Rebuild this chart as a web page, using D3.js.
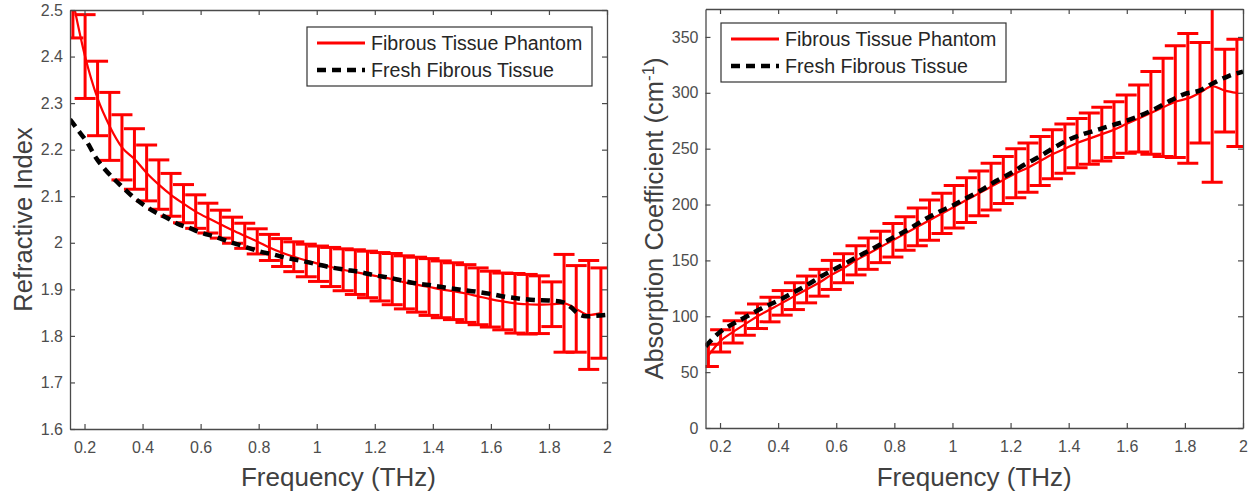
<!DOCTYPE html>
<html>
<head>
<meta charset="utf-8">
<script src="https://cdn.jsdelivr.net/npm/d3@7/dist/d3.min.js"></script>
<style>
  html, body { margin: 0; padding: 0; background: #fff; }
  svg { display: block; font-family: "Liberation Sans", Arial, Helvetica, sans-serif; }
</style>
</head>
<body>
<svg id="chart" width="1252" height="497"></svg>
<script>
// frequency grid of the phantom measurement (THz)
var freq = [0.160, 0.202, 0.245, 0.287, 0.329, 0.372, 0.414, 0.456, 0.498, 0.541, 0.583, 0.625,
  0.668, 0.710, 0.752, 0.795, 0.837, 0.879, 0.921, 0.964, 1.006, 1.048, 1.091, 1.133, 1.175,
  1.218, 1.260, 1.302, 1.344, 1.387, 1.429, 1.471, 1.514, 1.556, 1.598, 1.641, 1.683, 1.725,
  1.767, 1.810, 1.852, 1.894, 1.937, 1.979];

// refractive index, fibrous tissue phantom (mean and half error bar)
var phantomIndex = [2.52, 2.40, 2.31, 2.25, 2.205, 2.18, 2.15, 2.125, 2.103, 2.084, 2.067, 2.053,
  2.04, 2.027, 2.015, 2.003, 1.99, 1.979, 1.970, 1.962, 1.955, 1.948, 1.942, 1.937, 1.932,
  1.927, 1.922, 1.915, 1.910, 1.905, 1.900, 1.896, 1.891, 1.885, 1.879, 1.874, 1.870, 1.868,
  1.867, 1.868, 1.870, 1.858, 1.845, 1.849];
var phantomIndexErr = [0.08, 0.09, 0.08, 0.073, 0.07, 0.065, 0.06, 0.053, 0.046, 0.041, 0.036, 0.032,
  0.03, 0.028, 0.027, 0.027, 0.028, 0.03, 0.032, 0.035, 0.038, 0.042, 0.045, 0.048, 0.05,
  0.052, 0.055, 0.057, 0.059, 0.061, 0.061, 0.061, 0.062, 0.061, 0.06, 0.061, 0.064, 0.064,
  0.062, 0.048, 0.105, 0.093, 0.117, 0.097];

// refractive index, fresh fibrous tissue
var freshIndexFreq = [0.15, 0.18, 0.21, 0.24, 0.27, 0.30, 0.33, 0.37, 0.40, 0.44, 0.48, 0.52, 0.56,
  0.60, 0.65, 0.70, 0.75, 0.80, 0.85, 0.90, 0.95, 1.00, 1.05, 1.10, 1.15, 1.20, 1.25, 1.30,
  1.35, 1.40, 1.45, 1.50, 1.55, 1.60, 1.65, 1.70, 1.75, 1.80, 1.85, 1.875, 1.90, 1.93, 1.96, 2.00];
var freshIndex = [2.265, 2.24, 2.215, 2.182, 2.158, 2.138, 2.12, 2.097, 2.083, 2.067, 2.055, 2.041, 2.032,
  2.022, 2.013, 2.002, 1.992, 1.982, 1.975, 1.967, 1.961, 1.954, 1.947, 1.942, 1.937, 1.93, 1.925, 1.918,
  1.912, 1.908, 1.903, 1.899, 1.895, 1.89, 1.884, 1.880, 1.877, 1.876, 1.872, 1.862, 1.848, 1.842, 1.843, 1.845];

// absorption coefficient (cm^-1), phantom
var phantomAbs = [65, 78, 86, 93, 100, 106, 112, 118, 124, 130, 137, 143, 150, 156, 162, 168, 174,
  180, 186, 192, 198, 204, 210, 216, 222, 228, 233, 239, 245, 250, 255, 259, 263, 267, 272,
  277, 282, 287, 292, 295, 300, 306, 302, 300];
var phantomAbsErr = [10, 10, 10, 10, 11, 11, 11, 12, 12, 12, 13, 13, 13, 14, 14, 15, 15, 17, 18,
  18, 19, 20, 20, 21, 21, 22, 22, 22, 22, 22, 22, 23, 24, 25, 26, 30, 37, 44, 50, 58, 45, 86, 37, 48];

// absorption coefficient, fresh tissue
var freshAbsFreq = [0.15, 0.20, 0.25, 0.30, 0.35, 0.40, 0.45, 0.50, 0.55, 0.60, 0.65, 0.70, 0.75,
  0.80, 0.85, 0.90, 0.95, 1.00, 1.05, 1.10, 1.15, 1.20, 1.25, 1.30, 1.35, 1.40, 1.45, 1.50, 1.55,
  1.60, 1.65, 1.70, 1.75, 1.80, 1.85, 1.90, 1.95, 2.00];
var freshAbs = [73, 86, 94, 101, 108, 114, 121, 128, 136, 143, 150, 157, 164, 171, 178, 186, 193,
  199, 206, 213, 221, 228, 236, 243, 251, 258, 263, 267, 271, 275, 280, 286, 293, 299, 302, 309, 315, 319];

var xTicks = [0.2, 0.4, 0.6, 0.8, 1, 1.2, 1.4, 1.6, 1.8, 2];
var indexTicks = [1.6, 1.7, 1.8, 1.9, 2, 2.1, 2.2, 2.3, 2.4, 2.5];
var absTicks = [0, 50, 100, 150, 200, 250, 300, 350];

var seriesNames = ['Fibrous Tissue Phantom', 'Fresh Fibrous Tissue'];

var svg = d3.select('#chart');
svg.append('rect').attr('width', 1252).attr('height', 497).attr('fill', '#fff');

var axisColor = '#4a4a4a';
var textColor = '#4d4d4d';

function fmt(d) {
  return String(+d.toFixed(1));
}

function drawPanel(cfg) {
  var x = d3.scaleLinear().domain([0.15, 2]).range([cfg.left, cfg.right]);
  var y = d3.scaleLinear().domain(cfg.yDomain).range([cfg.bottom, cfg.top]);
  var g = svg.append('g');

  var clipId = 'clip-' + cfg.id;
  svg.append('clipPath').attr('id', clipId)
    .append('rect')
    .attr('x', cfg.left).attr('y', cfg.top)
    .attr('width', cfg.right - cfg.left).attr('height', cfg.bottom - cfg.top);

  var plot = g.append('g').attr('clip-path', 'url(#' + clipId + ')');

  // error bars
  var capW = 10.5;
  var bars = plot.append('g').attr('stroke', '#ff0000').attr('stroke-width', 3).attr('fill', 'none');
  freq.forEach(function (f, i) {
    var m = cfg.mean[i];
    var e = cfg.err[i];
    var px = x(f);
    bars.append('line').attr('x1', px).attr('x2', px).attr('y1', y(m - e)).attr('y2', y(m + e));
    bars.append('line').attr('x1', px - capW).attr('x2', px + capW).attr('y1', y(m - e)).attr('y2', y(m - e));
    bars.append('line').attr('x1', px - capW).attr('x2', px + capW).attr('y1', y(m + e)).attr('y2', y(m + e));
  });

  var line = d3.line().x(function (d) { return x(d[0]); }).y(function (d) { return y(d[1]); });

  plot.append('path')
    .datum(freq.map(function (f, i) { return [f, cfg.mean[i]]; }))
    .attr('d', line.curve(d3.curveMonotoneX))
    .attr('fill', 'none').attr('stroke', '#ff0000').attr('stroke-width', 2.2);

  plot.append('path')
    .datum(cfg.freshFreq.map(function (f, i) { return [f, cfg.fresh[i]]; }))
    .attr('d', line.curve(d3.curveMonotoneX))
    .attr('fill', 'none').attr('stroke', '#000').attr('stroke-width', 4.5)
    .attr('stroke-dasharray', '9,6');

  // axes
  var bottomAxis = d3.axisBottom(x).tickValues(xTicks).tickFormat(fmt).tickSizeInner(-5).tickSizeOuter(0).tickPadding(13);
  var topAxis = d3.axisTop(x).tickValues(xTicks).tickFormat('').tickSizeInner(-5).tickSizeOuter(0);
  var leftAxis = d3.axisLeft(y).tickValues(cfg.yTicks).tickFormat(fmt).tickSizeInner(-5).tickSizeOuter(0).tickPadding(7);
  var rightAxis = d3.axisRight(y).tickValues(cfg.yTicks).tickFormat('').tickSizeInner(-5).tickSizeOuter(0);

  var axes = [
    [bottomAxis, 'translate(0,' + cfg.bottom + ')'],
    [topAxis, 'translate(0,' + cfg.top + ')'],
    [leftAxis, 'translate(' + cfg.left + ',0)'],
    [rightAxis, 'translate(' + cfg.right + ',0)']
  ];
  axes.forEach(function (a) {
    var ag = g.append('g').attr('transform', a[1]).call(a[0]);
    ag.select('.domain').attr('stroke', axisColor).attr('stroke-width', 1.3);
    ag.selectAll('.tick line').attr('stroke', axisColor).attr('stroke-width', 1.2);
    ag.selectAll('.tick text').attr('fill', textColor).attr('font-size', 16)
      .attr('font-family', '"Liberation Sans", Arial, Helvetica, sans-serif');
  });

  // axis titles
  g.append('text')
    .attr('x', (cfg.left + cfg.right) / 2).attr('y', 486)
    .attr('text-anchor', 'middle').attr('font-size', 26).attr('fill', '#404040')
    .text('Frequency (THz)');

  var yl = g.append('text')
    .attr('transform', 'translate(' + cfg.ylabelX + ',' + ((cfg.top + cfg.bottom) / 2) + ') rotate(-90)')
    .attr('text-anchor', 'middle').attr('font-size', 25.5).attr('fill', '#404040');
  cfg.ylabel(yl);

  // legend
  var lg = g.append('g').attr('transform', 'translate(' + cfg.legend[0] + ',' + cfg.legend[1] + ')');
  lg.append('rect').attr('x', 0).attr('y', 0).attr('width', 285).attr('height', 59)
    .attr('fill', '#fff').attr('stroke', '#333').attr('stroke-width', 1.2);
  lg.append('line').attr('x1', 10).attr('x2', 58).attr('y1', 16).attr('y2', 16)
    .attr('stroke', '#ff0000').attr('stroke-width', 3);
  lg.append('line').attr('x1', 10).attr('x2', 58).attr('y1', 43).attr('y2', 43)
    .attr('stroke', '#000').attr('stroke-width', 4.5).attr('stroke-dasharray', '9,6');
  seriesNames.forEach(function (name, i) {
    lg.append('text').attr('x', 64).attr('y', 23 + i * 27)
      .attr('font-size', 19.6).attr('fill', '#262626').text(name);
  });
}

drawPanel({
  id: 'index', left: 70, right: 607, top: 10, bottom: 429,
  yDomain: [1.6, 2.5], yTicks: indexTicks,
  mean: phantomIndex, err: phantomIndexErr,
  freshFreq: freshIndexFreq, fresh: freshIndex,
  ylabelX: 32,
  ylabel: function (t) { t.text('Refractive Index'); },
  legend: [307, 27]
});

drawPanel({
  id: 'abs', left: 705.5, right: 1243, top: 9, bottom: 428,
  yDomain: [0, 375], yTicks: absTicks,
  mean: phantomAbs, err: phantomAbsErr,
  freshFreq: freshAbsFreq, fresh: freshAbs,
  ylabelX: 663,
  ylabel: function (t) {
    t.append('tspan').text('Absorption Coefficient (cm');
    t.append('tspan').attr('dy', -9).attr('font-size', 17).text('-1');
    t.append('tspan').attr('dy', 9).text(')');
  },
  legend: [721, 23]
});
</script>
</body>
</html>
